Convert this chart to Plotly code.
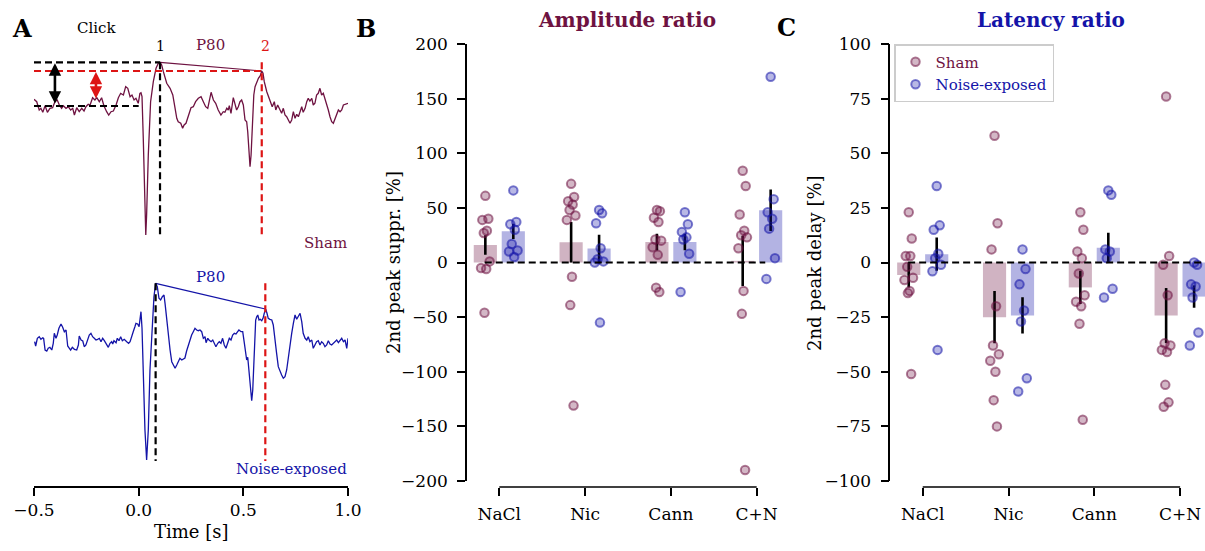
import plotly.graph_objects as go

# ---------------- data ----------------
# Panel A: example waveforms (time in s, amplitude in arbitrary units, baseline = 0)
sham_t = [-0.500, -0.487, -0.475, -0.467, -0.458, -0.447, -0.436, -0.424, -0.411, -0.400,
          -0.389, -0.379, -0.368, -0.360, -0.347, -0.336, -0.325, -0.315, -0.307, -0.296,
          -0.284, -0.272, -0.261, -0.252, -0.241, -0.232, -0.220, -0.209, -0.200, -0.188,
          -0.177, -0.166, -0.153, -0.143, -0.132, -0.121, -0.108, -0.097, -0.086, -0.073,
          -0.062, -0.052, -0.041, -0.032, -0.022, -0.013, -0.002, 0.006, 0.011, 0.016,
          0.022, 0.029, 0.034, 0.038, 0.046, 0.057, 0.070, 0.083, 0.094, 0.102,
          0.110, 0.118, 0.134, 0.150, 0.163, 0.174, 0.182, 0.189, 0.201, 0.210,
          0.217, 0.226, 0.240, 0.250, 0.261, 0.272, 0.285, 0.298, 0.309, 0.320,
          0.330, 0.336, 0.346, 0.357, 0.368, 0.380, 0.393, 0.404, 0.412, 0.421,
          0.428, 0.433, 0.441, 0.452, 0.460, 0.468, 0.476, 0.484, 0.492, 0.500,
          0.508, 0.516, 0.521, 0.527, 0.532, 0.537, 0.543, 0.550, 0.556, 0.564,
          0.572, 0.581, 0.588, 0.594, 0.600, 0.612, 0.623, 0.632, 0.638, 0.648,
          0.655, 0.664, 0.675, 0.683, 0.691, 0.699, 0.707, 0.715, 0.723, 0.731,
          0.739, 0.747, 0.755, 0.763, 0.771, 0.779, 0.786, 0.795, 0.803, 0.810,
          0.818, 0.827, 0.834, 0.842, 0.850, 0.858, 0.866, 0.874, 0.882, 0.890,
          0.898, 0.906, 0.914, 0.922, 0.930, 0.938, 0.946, 0.954, 0.962, 0.970,
          0.978, 0.986, 0.994, 1.000]
sham_amp = [6.7, 4.3, -4, -2.3, -6.3, 0.3, -6.3, -2.3, -1.7, 4.3,
            6, 1, -2.3, 0.3, -2.3, -0.7, -4, -2.3, -9, -1.7,
            -5.7, -2.3, -5, -0.7, 1.7, 1, 8.3, 6, 8.3, 4.3,
            8.3, 0.3, -5.7, -9, -5.7, -5, 1, 8.3, 12.7, 11,
            19.3, 17.7, 9.3, 11, 6, 7.7, 2.7, 12.7, 13.3, 9.3,
            -32.3, -89, -129, -109, -49, 4.3, 24.3, 37.7, 42.7, 43.7,
            41, 34.3, 22.7, 17.7, 11, -2.3, -12.3, -15.7, -17.3, -22.3,
            -19, -17.3, -9, -1.7, -0.7, 4.3, 7.7, 9.3, 4.3, -0.7,
            -2.3, 4.3, 13.7, 6, 2.7, -4, -9, -5.7, -6.3, -2.3,
            -4, 0.3, -7.3, 8.3, 1, -4, -0.7, 4.3, 6, 1,
            -14, -15.7, -25.7, -49, -60.7, -49, -15.7, 11, 19.3, 24.3,
            27.7, 30.3, 35, 32.7, 24.3, 14.3, 7.7, 1.7, -0.7, 4.3,
            -4, 1, -4, -7.3, -2.3, -9, -10.7, -14, -17.3, -14,
            -5.7, -12.3, -8.3, -10.7, -5.7, -0.7, -6.3, -2.3, 4.3, 7.7,
            5, 7.7, 1, 2.7, 11, 12.7, 17.7, 11, 12.7, 7.7,
            2.7, -4, -10.7, -15.7, -17.3, -12.3, -7.3, -4, -5.7, -4,
            1, 1.7, 1.7, 2.7]

noise_t = [-0.497, -0.492, -0.484, -0.475, -0.467, -0.458, -0.454, -0.447, -0.439, -0.432,
           -0.424, -0.415, -0.408, -0.403, -0.395, -0.389, -0.381, -0.371, -0.363, -0.355,
           -0.347, -0.339, -0.331, -0.325, -0.317, -0.307, -0.296, -0.288, -0.284, -0.275,
           -0.267, -0.260, -0.252, -0.243, -0.236, -0.228, -0.220, -0.212, -0.204, -0.196,
           -0.188, -0.180, -0.172, -0.164, -0.153, -0.145, -0.137, -0.129, -0.124, -0.118,
           -0.108, -0.102, -0.094, -0.086, -0.078, -0.069, -0.057, -0.048, -0.041, -0.033,
           -0.026, -0.018, -0.013, -0.005, 0.002, 0.006, 0.011, 0.016, 0.022, 0.030,
           0.038, 0.046, 0.054, 0.064, 0.073, 0.081, 0.089, 0.097, 0.105, 0.113,
           0.121, 0.126, 0.134, 0.142, 0.150, 0.158, 0.165, 0.174, 0.182, 0.189,
           0.197, 0.206, 0.213, 0.221, 0.229, 0.237, 0.245, 0.253, 0.261, 0.269,
           0.277, 0.285, 0.293, 0.301, 0.309, 0.317, 0.322, 0.330, 0.336, 0.346,
           0.354, 0.361, 0.369, 0.378, 0.385, 0.393, 0.401, 0.409, 0.417, 0.425,
           0.433, 0.441, 0.449, 0.457, 0.465, 0.473, 0.479, 0.489, 0.497, 0.505,
           0.511, 0.516, 0.521, 0.527, 0.533, 0.540, 0.545, 0.550, 0.554, 0.559,
           0.564, 0.569, 0.575, 0.581, 0.588, 0.594, 0.600, 0.607, 0.613, 0.619,
           0.627, 0.636, 0.643, 0.651, 0.659, 0.667, 0.675, 0.683, 0.691, 0.699,
           0.707, 0.715, 0.723, 0.731, 0.739, 0.747, 0.755, 0.763, 0.771, 0.779,
           0.786, 0.795, 0.803, 0.810, 0.818, 0.827, 0.834, 0.842, 0.850, 0.858,
           0.866, 0.874, 0.882, 0.890, 0.898, 0.906, 0.914, 0.922, 0.930, 0.938,
           0.946, 0.954, 0.962, 0.970, 0.978, 0.986, 0.994, 1.000]
noise_amp = [-1.7, -6, 1.7, 3.3, 0.7, 2.3, 1.7, -10, -11, -8.3,
             -7.3, -10, -3.3, 6.7, 1.7, 5, 11.7, 16, 12.7, 8.3,
             10, -6, -8.3, -10, -7.3, -9.3, -10, -5, 4, 0,
             -1, -6.7, -5, 0, 5, 6.7, 3.3, 1.7, 0, 0.7,
             1.7, -1.7, 1.7, -0.7, -4, -7.3, -3.3, -1.7, -4, -0.7,
             -2.7, 1.7, -0.7, 3.3, -0.7, 0.7, -1.7, -3.3, -1.7, 5,
             8.3, 13.3, 16.7, 16, 13.3, 20, 28.3, 11.7, -30, -90,
             -120, -90, -30, 16.7, 43.3, 56.7, 53.3, 41.7, 40, 43.3,
             45, 36.7, 20, 3.3, -10, -21.7, -25, -28.3, -25, -21.7,
             -18.3, -20, -19.3, -18, -11, -5, -1.5, 5, 8.3, 11.7,
             10, 9.3, 10, 8.3, 1.7, 3.3, -2.7, 1.7, 0, -1.7,
             0, -3.3, -6.7, -3.3, -1.7, -3.3, 1.7, -5, -8.3, -3.3,
             1.7, 0, 5, 6.7, 6, 8.3, 10, 8.3, 8.3, -3.3,
             -16.7, -20, -17.3, -33.3, -50, -60.7, -50, -23.3, 3.3, 20,
             23.3, 25, 20, 20.7, 19.3, 21.7, 26.7, 30.7, 26.7, 21.7,
             20.7, 20, 15, 3.3, -13.3, -26.7, -31.7, -35, -38.3, -36.7,
             -30, -16.7, -3.3, 6.7, 16.7, 25, 20.7, 24, 26.7, 18.3,
             6.7, 1.7, 0, 3.3, -1.7, 0, -8.3, -5, -1.7, -0.7,
             -5, -1.7, -3.3, -6.7, -5, -0.7, -4, -5, -3.3, -1.7,
             0, -2.7, -0.7, 1.7, -1.7, 0, -8.3, 1.7]

# first / second peak (time, amplitude)
sham_peaks_t = [0.102, 0.588]
sham_peaks_a = [43.7, 35.0]
noise_peaks_t = [0.081, 0.605]
noise_peaks_a = [56.7, 31.0]
time_ticks = [-0.5, 0.0, 0.5, 1.0]
time_ticklabels = ["\u22120.5", "0.0", "0.5", "1.0"]

# Panels B & C
categories = ["NaCl", "Nic", "Cann", "C+N"]

amp_sham_pts = [[61, 40, 39, 29, 27, 1, -5, -6, -46],
                [72, 60, 56, 53, 48, 43, 39, -13, -39, -131],
                [48, 47, 41, 37, 21, 20, 14, 7, -23, -27],
                [84, 70, 44, 29, 25, 23, 13, -26, -47, -190]]
amp_noise_pts = [[66, 37, 35, 30, 17, 11, 10, 5],
                 [48, 45, 36, 13, 3, 1, 0, -55],
                 [46, 35, 28, 23, 21, 8, -27],
                 [170, 58, 46, 40, 31, 4, -15]]
amp_sham_mean = [16.0, 18.5, 18.7, 1.5]
amp_sham_sem = [9.0, 18.5, 7.7, 23.0]
amp_noise_mean = [28.5, 12.8, 18.7, 47.8]
amp_noise_sem = [7.0, 12.5, 7.6, 19.0]

lat_sham_pts = [[23, 11, 3, 3, -2, -7, -8, -13, -14, -51],
                [58, 18, 6, -20, -38, -42, -45, -50, -63, -75],
                [23, 15, 5, 2, -5, -15, -18, -20, -28, -72],
                [76, 3, -1, -15, -37, -38, -40, -41, -56, -64, -66]]
lat_noise_pts = [[35, 17, 15, 4, 2, -1, -4, -40],
                 [6, -3, -10, -22, -27, -53, -59],
                 [33, 31, 6, 5, 2, -12, -16],
                 [0, -1, -10, -11, -16, -32, -38]]
lat_sham_mean = [-5.7, -25.0, -11.4, -24.3]
lat_sham_sem = [5.7, 12.0, 7.6, 12.6]
lat_noise_mean = [3.8, -24.2, 6.8, -15.6]
lat_noise_sem = [7.6, 8.3, 6.8, 5.1]

# ---------------- style ----------------
W, H = 1205, 551
def fx(p):
    return p / W
def fy(p):
    return 1 - p / H

SHAM = "#6e1241"
NOISE = "#1414a8"
RED = "#dd1515"
FONT = "DejaVu Serif"
SHAM_OFFSET = 234          # vertical offset of the sham trace in panel A
GROUP_OFF = 0.163
BAR_W = 0.27
JIT = [0.0, 0.035, -0.035, 0.018, -0.018, 0.05, -0.05, 0.01, -0.01, 0.028, -0.028]

def rgba(hexc, a):
    h = hexc.lstrip('#')
    r, g, b = int(h[0:2], 16), int(h[2:4], 16), int(h[4:6], 16)
    return f"rgba({r},{g},{b},{a})"

fig = go.Figure()

# ---- Panel A ----
fig.add_trace(go.Scatter(x=sham_t, y=[a + SHAM_OFFSET for a in sham_amp], mode="lines",
                         line=dict(color=SHAM, width=1.3), xaxis="x", yaxis="y", showlegend=False))
fig.add_trace(go.Scatter(x=sham_peaks_t, y=[a + SHAM_OFFSET for a in sham_peaks_a], mode="lines",
                         line=dict(color=SHAM, width=1.2), xaxis="x", yaxis="y", showlegend=False))
fig.add_trace(go.Scatter(x=noise_t, y=noise_amp, mode="lines",
                         line=dict(color=NOISE, width=1.3), xaxis="x", yaxis="y", showlegend=False))
fig.add_trace(go.Scatter(x=noise_peaks_t, y=noise_peaks_a, mode="lines",
                         line=dict(color=NOISE, width=1.2), xaxis="x", yaxis="y", showlegend=False))

shapes = []
def dline(x0, y0, x1, y1, color, xref="x", yref="y", width=2.2, dash="7px,4px"):
    shapes.append(dict(type="line", xref=xref, yref=yref, x0=x0, y0=y0, x1=x1, y1=y1,
                       line=dict(color=color, width=width, dash=dash)))

s1t, s2t = sham_peaks_t
s1a, s2a = [a + SHAM_OFFSET for a in sham_peaks_a]
dline(-0.5, s1a, s1t, s1a, "black")
dline(-0.5, SHAM_OFFSET, 0.0, SHAM_OFFSET, "black")
dline(-0.5, s2a, s2t, s2a, RED)
dline(s1t, s1a, s1t, SHAM_OFFSET - 130, "black")
dline(s2t, s1a, s2t, SHAM_OFFSET - 130, RED)
n1t, n2t = noise_peaks_t
dline(n1t, noise_peaks_a[0], n1t, -121, "black")
dline(n2t, noise_peaks_a[0], n2t, -121, RED)

annotations = []
# double arrows
annotations.append(dict(x=-0.4, y=s1a - 1, ax=-0.4, ay=SHAM_OFFSET + 1, xref="x", yref="y",
                        axref="x", ayref="y", text="", showarrow=True, arrowhead=2, arrowside="end+start",
                        startarrowhead=2, arrowsize=0.95, startarrowsize=0.95, arrowwidth=2.6, arrowcolor="black"))
annotations.append(dict(x=-0.204, y=s2a - 1, ax=-0.204, ay=SHAM_OFFSET + 6, xref="x", yref="y",
                        axref="x", ayref="y", text="", showarrow=True, arrowhead=2, arrowside="end+start",
                        startarrowhead=2, arrowsize=0.95, startarrowsize=0.95, arrowwidth=2.6, arrowcolor=RED))

def txt(x, y, s, size=15, color="black", bold=False, xanchor="center", angle=0):
    t = f"<b>{s}</b>" if bold else s
    annotations.append(dict(x=fx(x), y=fy(y), xref="paper", yref="paper", text=t, showarrow=False,
                            font=dict(family=FONT, size=size, color=color), xanchor=xanchor,
                            yanchor="middle", textangle=angle))

txt(22, 28, "A", size=24, bold=True)
txt(366, 28, "B", size=24, bold=True)
txt(786, 27, "C", size=24, bold=True)
txt(96, 28, "Click", size=15)
txt(160, 46, "1", size=14)
txt(210, 45, "P80", size=15, color=SHAM)
txt(265, 46, "2", size=14, color=RED)
txt(349, 243, "Sham", size=15, color=SHAM, xanchor="right")
txt(210, 277, "P80", size=15, color=NOISE)
txt(349, 469, "Noise-exposed", size=15, color=NOISE, xanchor="right")
txt(191, 531, "Time [s]", size=18)
txt(627, 20, "Amplitude ratio", size=20, color=SHAM, bold=True)
txt(1051, 20, "Latency ratio", size=20, color=NOISE, bold=True)
txt(394, 263, "2nd peak suppr. [%]", size=18, angle=-90)
txt(815, 263, "2nd peak delay [%]", size=18, angle=-90)

# ---- Panels B & C ----
def group_panel(xa, ya, sham_pts, noise_pts, sham_mean, sham_sem, noise_mean, noise_sem, legend):
    for col, off, mean, sem in [(SHAM, -GROUP_OFF, sham_mean, sham_sem),
                                (NOISE, GROUP_OFF, noise_mean, noise_sem)]:
        fig.add_trace(go.Bar(x=[i + off for i in range(len(categories))], y=mean, width=BAR_W,
                             marker=dict(color=rgba(col, 0.32), line=dict(width=0)),
                             error_y=dict(type="data", array=sem, visible=True, width=0,
                                          thickness=2.6, color="black"),
                             xaxis=xa, yaxis=ya, showlegend=False, cliponaxis=False))
    for col, off, pts, name in [(SHAM, -GROUP_OFF, sham_pts, "Sham"),
                                (NOISE, GROUP_OFF, noise_pts, "Noise-exposed")]:
        xs, ys = [], []
        for i, grp in enumerate(pts):
            for j, v in enumerate(grp):
                xs.append(i + off + JIT[j % len(JIT)])
                ys.append(v)
        fig.add_trace(go.Scatter(x=xs, y=ys, mode="markers",
                                 marker=dict(size=8.5, color=rgba(col, 0.3),
                                             line=dict(color=rgba(col, 0.55), width=2)),
                                 name=f'<span style="color:{col}">{name}</span>',
                                 xaxis=xa, yaxis=ya, showlegend=legend, cliponaxis=False))

group_panel("x2", "y2", amp_sham_pts, amp_noise_pts, amp_sham_mean, amp_sham_sem,
            amp_noise_mean, amp_noise_sem, False)
group_panel("x3", "y3", lat_sham_pts, lat_noise_pts, lat_sham_mean, lat_sham_sem,
            lat_noise_mean, lat_noise_sem, True)

# zero lines & trimmed x spines
dline(-0.17, 0, 3.1, 0, "black", xref="x2", yref="y2", width=2.2, dash="7px,4px")
dline(-0.17, 0, 3.29, 0, "black", xref="x3", yref="y3", width=2.2, dash="7px,4px")
for xr in ["x2", "x3"]:
    shapes.append(dict(type="line", xref=xr, yref="paper", x0=0, x1=3, y0=fy(487), y1=fy(487),
                       line=dict(color="black", width=1.6)))

tickfont = dict(family=FONT, size=17, color="black")
common_ax = dict(ticks="outside", ticklen=8, tickwidth=1.6, tickcolor="black",
                 tickfont=tickfont, zeroline=False, showgrid=False, automargin=False)

fig.update_layout(
    width=W, height=H, margin=dict(l=0, r=0, t=0, b=0, autoexpand=False),
    paper_bgcolor="white", plot_bgcolor="white",
    font=dict(family=FONT, size=15, color="black"),
    barmode="overlay",
    xaxis=dict(domain=[fx(34), fx(348)], range=[-0.5, 1.0], anchor="free", position=fy(487),
               tickvals=time_ticks, ticktext=time_ticklabels, showline=True, linecolor="black",
               linewidth=1.6, ticklabelstandoff=0, **common_ax),
    yaxis=dict(domain=[fy(480), fy(30)], range=[-140, 310], visible=False, automargin=False),
    xaxis2=dict(domain=[fx(469.3), fx(786.7)], range=[-0.35, 3.35], anchor="free", position=fy(487),
                tickvals=[0, 1, 2, 3], ticktext=categories, showline=False,
                ticklabelstandoff=4, **common_ax),
    yaxis2=dict(domain=[fy(481), fy(44)], range=[-200, 200], anchor="free", position=fx(466),
                dtick=50, showline=True, linecolor="black", linewidth=1.6,
                ticklabelstandoff=6, **common_ax),
    xaxis3=dict(domain=[fx(892.7), 1.0], range=[-0.35, 3.29], anchor="free", position=fy(487),
                tickvals=[0, 1, 2, 3], ticktext=categories, showline=False,
                ticklabelstandoff=4, **common_ax),
    yaxis3=dict(domain=[fy(481), fy(44)], range=[-100, 100], anchor="free", position=fx(889.3),
                dtick=25, showline=True, linecolor="black", linewidth=1.6,
                ticklabelstandoff=6, **common_ax),
    legend=dict(x=fx(894), y=fy(44), xanchor="left", yanchor="top",
                bgcolor="rgba(255,255,255,0.85)", bordercolor="#cccccc", borderwidth=1.5,
                font=dict(family=FONT, size=15), itemwidth=30, tracegroupgap=0),
    shapes=shapes, annotations=annotations,
)

fig.write_html("out.html", config={"displayModeBar": False},
               post_script="document.body.style.margin='0';document.body.style.overflow='hidden';")
